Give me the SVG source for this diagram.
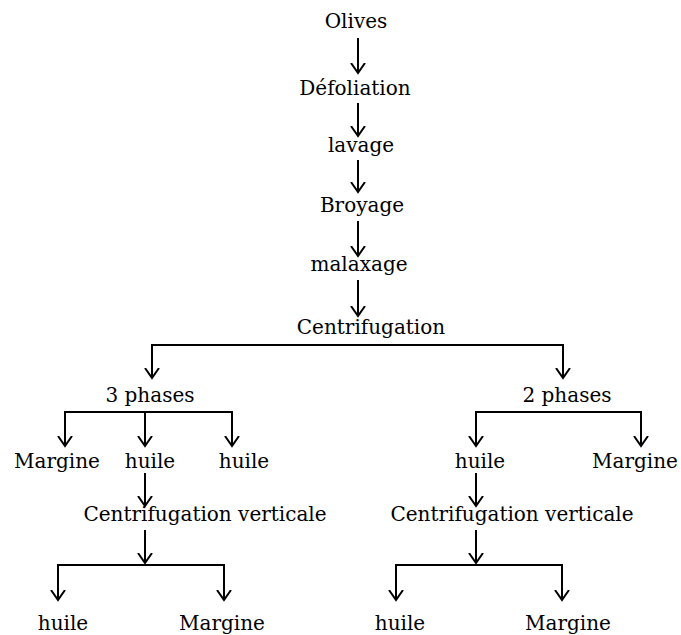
<svg xmlns="http://www.w3.org/2000/svg" width="681" height="635" viewBox="0 0 681 635">
<style>
text{font-family:'DejaVu Serif','Liberation Serif',serif;font-size:20px;fill:#000;text-anchor:middle}
.c{fill:none;stroke:#000;stroke-width:2}
</style>
<defs>
<marker id="a" markerUnits="userSpaceOnUse" markerWidth="20" markerHeight="20" viewBox="-10 -12 20 20" refX="0" refY="0" orient="auto-start-reverse">
<path d="M-10,-7 L0,0 L-10,7" fill="none" stroke="#000" stroke-width="2"/>
</marker>
</defs>
<rect width="681" height="635" fill="#fff"/>
<g id="connectors" class="c">
<path class="c" d="M358,38 V73" marker-end="url(#a)"/>
<path class="c" d="M358,103 V136" marker-end="url(#a)"/>
<path class="c" d="M358,160 V192" marker-end="url(#a)"/>
<path class="c" d="M358,221 V256" marker-end="url(#a)"/>
<path class="c" d="M358,280 V316" marker-end="url(#a)"/>
<path class="c" d="M152,378 V345 H563 V378"/>
<path class="c" d="M152,350 V378" marker-end="url(#a)"/>
<path class="c" d="M563,350 V378" marker-end="url(#a)"/>
<path class="c" d="M65,412 H232"/>
<path class="c" d="M65,411 V446" marker-end="url(#a)"/>
<path class="c" d="M145,411 V446" marker-end="url(#a)"/>
<path class="c" d="M232,411 V446" marker-end="url(#a)"/>
<path class="c" d="M145,473 V506" marker-end="url(#a)"/>
<path class="c" d="M145,530 V563" marker-end="url(#a)"/>
<path class="c" d="M58,565 H224"/>
<path class="c" d="M58,564 V600" marker-end="url(#a)"/>
<path class="c" d="M224,564 V600" marker-end="url(#a)"/>
<path class="c" d="M476,412 H641"/>
<path class="c" d="M476,411 V446" marker-end="url(#a)"/>
<path class="c" d="M641,411 V446" marker-end="url(#a)"/>
<path class="c" d="M476,473 V506" marker-end="url(#a)"/>
<path class="c" d="M476,530 V563" marker-end="url(#a)"/>
<path class="c" d="M396,565 H562"/>
<path class="c" d="M396,564 V600" marker-end="url(#a)"/>
<path class="c" d="M562,564 V600" marker-end="url(#a)"/>
</g>
<g id="n-olives"><text x="356" y="28">Olives</text></g>
<g id="n-defoliation"><text x="355" y="95">Défoliation</text></g>
<g id="n-lavage"><text x="361" y="152">lavage</text></g>
<g id="n-broyage"><text x="362" y="212">Broyage</text></g>
<g id="n-malaxage"><text x="359" y="271">malaxage</text></g>
<g id="n-centrifugation"><text x="371" y="334">Centrifugation</text></g>
<g id="n-3phases"><text x="150" y="402">3 phases</text></g>
<g id="n-2phases"><text x="567" y="402">2 phases</text></g>
<g id="n-margine1"><text x="57" y="468">Margine</text></g>
<g id="n-huile1"><text x="150" y="468">huile</text></g>
<g id="n-huile2"><text x="244" y="468">huile</text></g>
<g id="n-huile3"><text x="480" y="468">huile</text></g>
<g id="n-margine2"><text x="635" y="468">Margine</text></g>
<g id="n-cv1"><text x="205" y="521">Centrifugation verticale</text></g>
<g id="n-cv2"><text x="512" y="521">Centrifugation verticale</text></g>
<g id="n-huile4"><text x="63" y="630">huile</text></g>
<g id="n-margine3"><text x="222" y="630">Margine</text></g>
<g id="n-huile5"><text x="400" y="630">huile</text></g>
<g id="n-margine4"><text x="568" y="630">Margine</text></g>
</svg>
